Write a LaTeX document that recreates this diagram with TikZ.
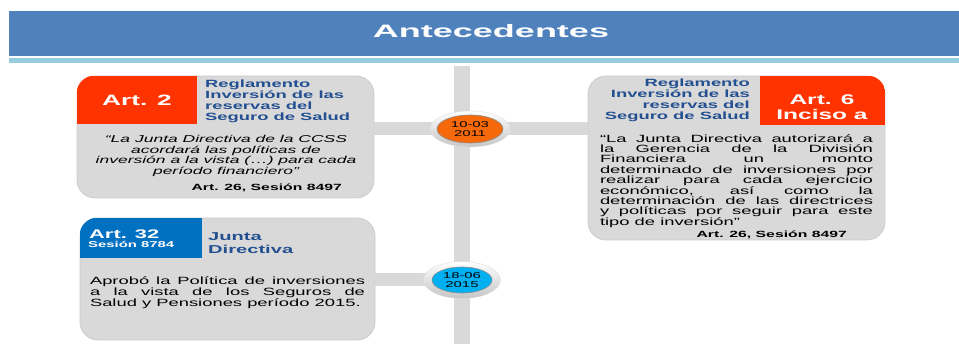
\documentclass[tikz,border=0pt]{standalone}
\usepackage{fontspec}
\setmainfont{Liberation Sans}
\newfontfamily\slidefont[FakeStretch=1.75]{Liberation Sans}
\newfontfamily\bannerfont[FakeStretch=2.0]{Liberation Sans}
\usetikzlibrary{shapes.geometric}
\tolerance=9999
\hyphenpenalty=10000

\definecolor{bannerblue}{RGB}{79,129,189}
\definecolor{stripeblue}{RGB}{150,205,222}
\definecolor{artred}{RGB}{255,51,0}
\definecolor{artblue}{RGB}{0,112,192}
\definecolor{titleblue}{RGB}{35,80,145}
\definecolor{cardgray}{RGB}{217,217,217}
\definecolor{dateorange}{RGB}{245,105,10}
\definecolor{datecyan}{RGB}{0,176,240}

\tikzset{
  card/.style       = {rectangle, rounded corners=18pt, fill=cardgray, draw=gray!40, line width=0.8pt, inner sep=0pt},
  bar/.style        = {cardgray, line width=13pt},
  ring/.style       = {ellipse, top color=white, bottom color=gray!45, draw=gray!25, inner sep=0pt},
  datebubble/.style = {ellipse, draw=black!45, line width=0.6pt, inner sep=0pt, align=center, font=\slidefont\fontsize{8.5}{9}\selectfont},
  arttag/.style     = {text=white, align=center, inner sep=0pt, font=\slidefont\bfseries\fontsize{14}{15}\selectfont},
  heading/.style    = {text=titleblue, inner sep=0pt, font=\slidefont\bfseries\fontsize{10.5}{11}\selectfont},
  quotetext/.style  = {inner sep=0pt, font=\slidefont\fontsize{10.5}{10.4}\selectfont},
  source/.style     = {inner sep=0pt, font=\slidefont\bfseries\fontsize{9}{9}\selectfont},
}

\begin{document}
\begin{tikzpicture}[x=1pt, y=-1pt]
        \useasboundingbox (0,0) rectangle (959,344);
        \fill[bannerblue] (9,11) rectangle (959,56);
        \fill[stripeblue] (9,58) rectangle (959,63);
        \node[text=white, font=\bannerfont\bfseries\fontsize{18}{18}\selectfont] (banner) at (491,31) {Antecedentes};

        \coordinate (tltop) at (462,66);
        \coordinate (tlbottom) at (462,344);
        \coordinate (d1) at (470,129);
        \coordinate (d2) at (462,280);
        \draw[bar, line width=16pt] (tltop) -- (tlbottom);

        \node[card, minimum width=297pt, minimum height=122pt] (art2) at (225.5,137) {};
        \node[card, minimum width=297pt, minimum height=164pt] (art6) at (736.5,158) {};
        \node[card, minimum width=295pt, minimum height=122pt] (art32) at (227.5,279) {};
        \draw[bar] (d1 -| art2.east) -- (d1 -| art6.west);
        \draw[bar] (d2 -| art32.east) -- (d2);

        \foreach \card/\corner/\hx/\hy/\hcol in {art2/north west/197/124/artred, art6/north east/760/125/artred, art32/north west/202/258/artblue} {
            \begin{scope}
                \clip[rounded corners=18pt] (\card.north west) rectangle (\card.south east);
                \fill[\hcol] (\card.\corner) rectangle (\hx,\hy);
            \end{scope}
        }

        % Art. 2
        \node[arttag, font=\slidefont\bfseries\fontsize{15}{15}\selectfont] (art2tag) at (137,100) {Art. 2};
        \node[heading, anchor=west, align=left] (art2head) at (205,101.5) {Reglamento\\Inversión de las\\reservas del\\Seguro de Salud};
        \node[quotetext, align=center, font=\slidefont\itshape\fontsize{10}{10.4}\selectfont] (art2quote) at (226,156) {“La Junta Directiva de la CCSS\\acordará las políticas de\\inversión a la vista (…) para cada\\período financiero”};
        \node[source, anchor=east] (art2src) at (342,188) {Art. 26, Sesión 8497};

        % Art. 6
        \node[arttag] (art6tag) at (822,107.5) {Art. 6\\Inciso a};
        \node[heading, anchor=east, align=right] (art6head) at (750,100) {Reglamento\\Inversión de las\\reservas del\\Seguro de Salud};
        \node[quotetext, align=justify, text width=273pt] (art6quote) at (736.5,181) {“La Junta Directiva autorizará a\linebreak la Gerencia de la División\linebreak Financiera un monto\linebreak determinado de inversiones por\linebreak realizar para cada ejercicio\linebreak económico, así como la\linebreak determinación de las directrices\linebreak y políticas por seguir para este\linebreak tipo de inversión”};
        \node[source, anchor=east] (art6src) at (847,235) {Art. 26, Sesión 8497};

        % Art. 32
        \node[arttag, anchor=west, font=\slidefont\bfseries\fontsize{12.5}{12.5}\selectfont] (art32tag) at (89,234) {Art. 32};
        \node[arttag, anchor=west, font=\slidefont\bfseries\fontsize{8.5}{8.5}\selectfont] (art32sess) at (88,244.5) {Sesión 8784};
        \node[heading, anchor=west, align=left, font=\slidefont\bfseries\fontsize{11.5}{12.5}\selectfont] (art32head) at (208,243) {Junta\\Directiva};
        \node[quotetext, align=justify, text width=275pt, font=\slidefont\fontsize{10.5}{11}\selectfont] (art32text) at (227.5,293) {Aprobó la Política de inversiones\linebreak a la vista de los Seguros de\linebreak Salud y Pensiones período 2015.};

        % dates
        \node[ring, minimum width=80pt, minimum height=36pt] (ring1) at (d1) {};
        \node[datebubble, fill=dateorange, minimum width=66pt, minimum height=28pt] (date1) at (d1) {10-03\\2011};
        \node[ring, minimum width=77pt, minimum height=37pt] (ring2) at (d2) {};
        \node[datebubble, fill=datecyan, minimum width=60pt, minimum height=26pt] (date2) at (d2) {18-06\\2015};
\end{tikzpicture}
\end{document}
